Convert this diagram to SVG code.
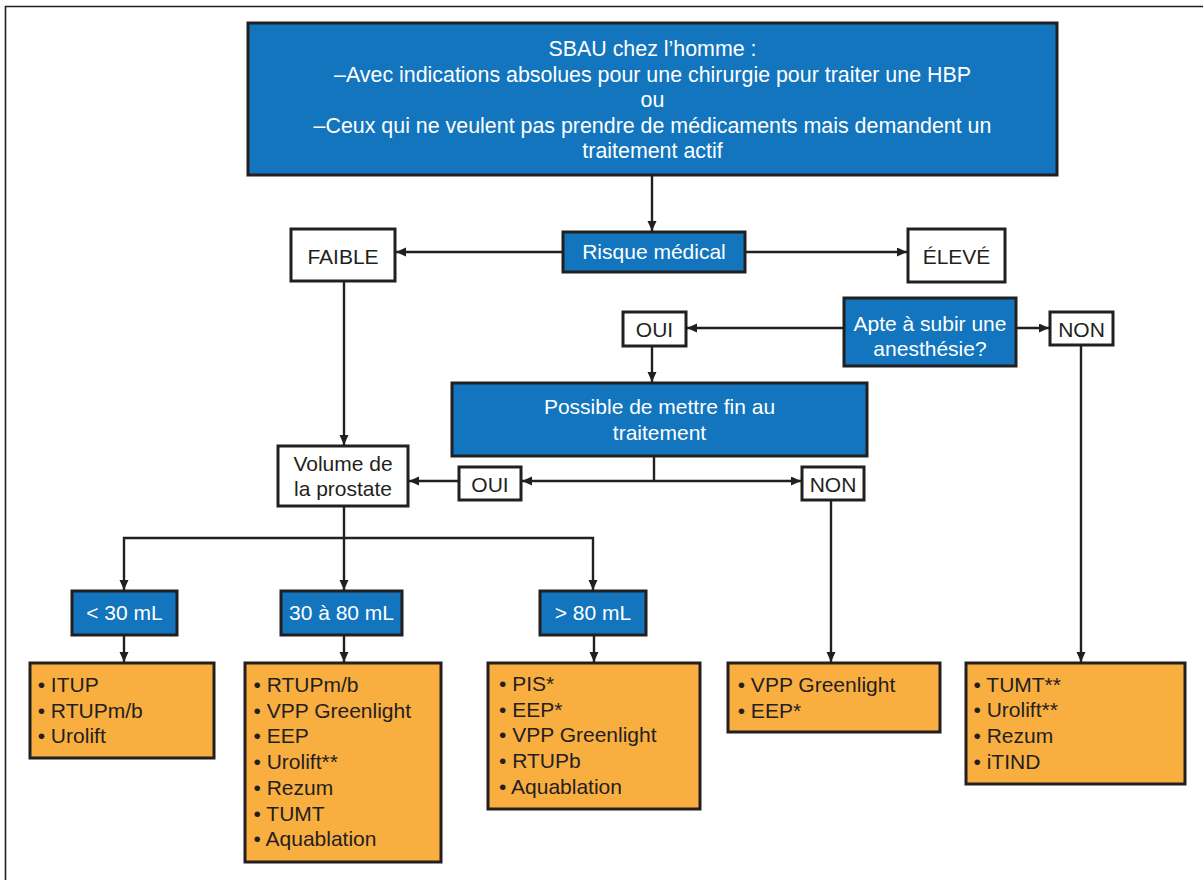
<svg xmlns="http://www.w3.org/2000/svg" width="1203" height="880" viewBox="0 0 1203 880">
<style>
text{font-family:"Liberation Sans",Arial,sans-serif;font-size:21px;fill:#231f20}
.w{fill:#ffffff}
.c{text-anchor:middle}
.big{font-size:21.4px}
.blue{fill:#1275bd;stroke:#231f20;stroke-width:3}
.white{fill:#ffffff;stroke:#231f20;stroke-width:3}
.orange{fill:#f9ae40;stroke:#231f20;stroke-width:3}
.ln{fill:none;stroke:#231f20;stroke-width:2.4}
.ar{fill:none;stroke:#231f20;stroke-width:2.4;marker-end:url(#ah)}
</style>
<defs>
<marker id="ah" markerUnits="userSpaceOnUse" markerWidth="11" markerHeight="10" refX="10" refY="4.5" orient="auto">
<path d="M0,0 L10,4.5 L0,9 Z" fill="#231f20"/>
</marker>
</defs>
<rect width="1203" height="880" fill="#ffffff"/>
<path d="M5.5,880 V6.5 H1203" fill="none" stroke="#231f20" stroke-width="1.6"/>

<g id="connectors">
<path class="ar" d="M652,175 V231"/>
<path class="ar" d="M563,252 H396"/>
<path class="ar" d="M745,252 H907"/>
<path class="ar" d="M344,281 V445"/>
<path class="ar" d="M844,328 H687"/>
<path class="ar" d="M1016,328 H1049"/>
<path class="ar" d="M652,346 V382"/>
<path class="ln" d="M654,456 V481"/>
<path class="ar" d="M654,481 H522"/>
<path class="ar" d="M654,481 H801"/>
<path class="ar" d="M459,481 H409"/>
<path class="ar" d="M344,506 V590"/>
<path class="ar" d="M344,538 H124 V590"/>
<path class="ar" d="M344,538 H593 V590"/>
<path class="ar" d="M124,635 V662"/>
<path class="ar" d="M344,635 V662"/>
<path class="ar" d="M594,635 V662"/>
<path class="ar" d="M831,500 V662"/>
<path class="ar" d="M1081,345 V662"/>
</g>

<g id="top">
<rect class="blue" x="248" y="23" width="809" height="152"/>
<text class="w c big" x="652.5" y="56">SBAU chez l’homme :</text>
<text class="w c big" x="652.5" y="81.5">–Avec indications absolues pour une chirurgie pour traiter une HBP</text>
<text class="w c big" x="652.5" y="107">ou</text>
<text class="w c big" x="652.5" y="132.5">–Ceux qui ne veulent pas prendre de médicaments mais demandent un</text>
<text class="w c big" x="652.5" y="158">traitement actif</text>
</g>

<g id="risque">
<rect class="blue" x="563" y="232" width="182" height="40"/>
<text class="w c" x="654" y="259">Risque médical</text>
</g>

<g id="faible">
<rect class="white" x="291" y="229" width="104" height="52"/>
<text class="c" x="343" y="264">FAIBLE</text>
</g>

<g id="eleve">
<rect class="white" x="908" y="229" width="97" height="53"/>
<text class="c" x="956.5" y="264">ÉLEVÉ</text>
</g>

<g id="apte">
<rect class="blue" x="844" y="298" width="172" height="68"/>
<text class="w c" x="930" y="331">Apte à subir une</text>
<text class="w c" x="930" y="356">anesthésie?</text>
</g>

<g id="oui1">
<rect class="white" x="623" y="312" width="63" height="34"/>
<text class="c" x="654.5" y="337">OUI</text>
</g>

<g id="non1">
<rect class="white" x="1050" y="312" width="63" height="33"/>
<text class="c" x="1081.5" y="337">NON</text>
</g>

<g id="possible">
<rect class="blue" x="452" y="383" width="415" height="73"/>
<text class="w c" x="659.5" y="414">Possible de mettre fin au</text>
<text class="w c" x="659.5" y="440">traitement</text>
</g>

<g id="oui2">
<rect class="white" x="459" y="467" width="62" height="33"/>
<text class="c" x="490" y="492">OUI</text>
</g>

<g id="non2">
<rect class="white" x="802" y="467" width="62" height="33"/>
<text class="c" x="833" y="492">NON</text>
</g>

<g id="volume">
<rect class="white" x="278" y="446" width="130" height="60"/>
<text class="c" x="343" y="471">Volume de</text>
<text class="c" x="343" y="496">la prostate</text>
</g>

<g id="v30">
<rect class="blue" x="72" y="591" width="105" height="44"/>
<text class="w c" x="124.5" y="620">&lt; 30 mL</text>
</g>

<g id="v3080">
<rect class="blue" x="281" y="591" width="121" height="44"/>
<text class="w c" x="341.5" y="620">30 à 80 mL</text>
</g>

<g id="v80">
<rect class="blue" x="540" y="591" width="106" height="44"/>
<text class="w c" x="593" y="620">&gt; 80 mL</text>
</g>

<g id="list1">
<rect class="orange" x="30" y="663" width="184" height="95"/>
<text x="37.7" y="692">• ITUP</text>
<text x="37.7" y="717.7">• RTUPm/b</text>
<text x="37.7" y="743.4">• Urolift</text>
</g>

<g id="list2">
<rect class="orange" x="245" y="663" width="196" height="199"/>
<text x="253.5" y="692">• RTUPm/b</text>
<text x="253.5" y="717.7">• VPP Greenlight</text>
<text x="253.5" y="743.4">• EEP</text>
<text x="253.5" y="769.1">• Urolift**</text>
<text x="253.5" y="794.8">• Rezum</text>
<text x="253.5" y="820.5">• TUMT</text>
<text x="253.5" y="846.2">• Aquablation</text>
</g>

<g id="list3">
<rect class="orange" x="488" y="663" width="212" height="146"/>
<text x="499" y="691">• PIS*</text>
<text x="499" y="716.7">• EEP*</text>
<text x="499" y="742.4">• VPP Greenlight</text>
<text x="499" y="768.1">• RTUPb</text>
<text x="499" y="793.8">• Aquablation</text>
</g>

<g id="list4">
<rect class="orange" x="728" y="663" width="212" height="69"/>
<text x="737.7" y="692">• VPP Greenlight</text>
<text x="737.7" y="717.5">• EEP*</text>
</g>

<g id="list5">
<rect class="orange" x="966" y="663" width="219" height="121"/>
<text x="973.5" y="691.5">• TUMT**</text>
<text x="973.5" y="717.3">• Urolift**</text>
<text x="973.5" y="743.1">• Rezum</text>
<text x="973.5" y="768.9">• iTIND</text>
</g>
</svg>
